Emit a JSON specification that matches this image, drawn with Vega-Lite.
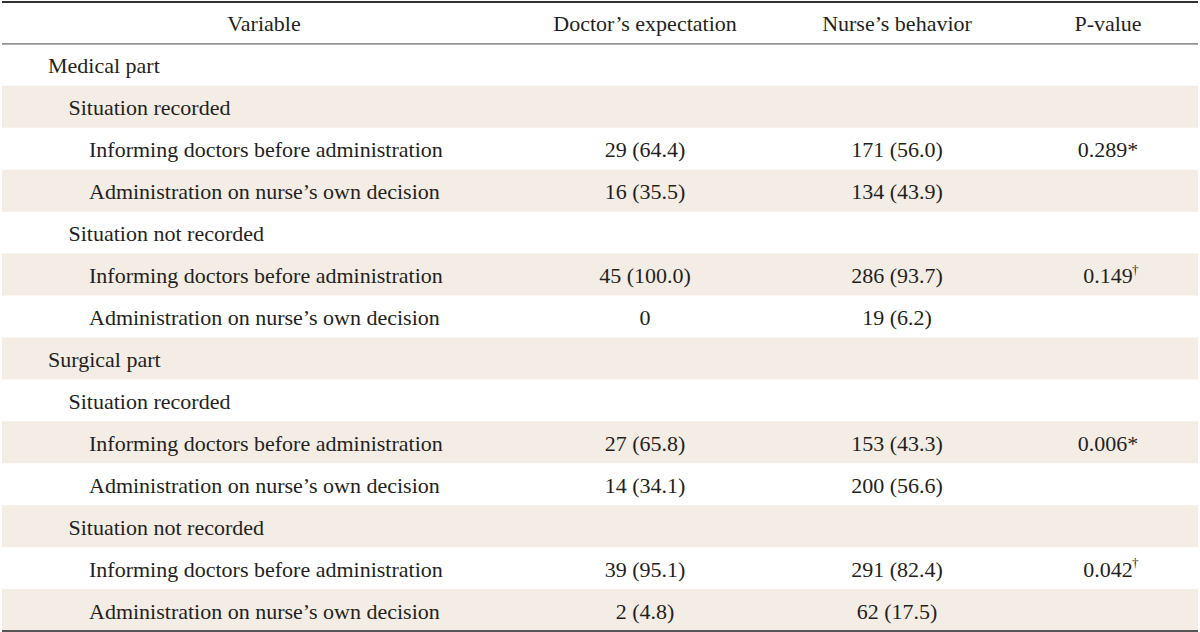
{
  "$schema": "https://vega.github.io/schema/vega-lite/v6.json",
  "width": 1200,
  "height": 632,
  "padding": 0,
  "autosize": {"type": "fit", "contains": "padding"},
  "background": "white",
  "config": {"view": {"stroke": null}},
  "datasets": {
    "labels": [
      {"row": 1, "level": 0, "label": "Medical part"},
      {"row": 2, "level": 1, "label": "Situation recorded"},
      {"row": 3, "level": 2, "label": "Informing doctors before administration"},
      {"row": 4, "level": 2, "label": "Administration on nurse’s own decision"},
      {"row": 5, "level": 1, "label": "Situation not recorded"},
      {"row": 6, "level": 2, "label": "Informing doctors before administration"},
      {"row": 7, "level": 2, "label": "Administration on nurse’s own decision"},
      {"row": 8, "level": 0, "label": "Surgical part"},
      {"row": 9, "level": 1, "label": "Situation recorded"},
      {"row": 10, "level": 2, "label": "Informing doctors before administration"},
      {"row": 11, "level": 2, "label": "Administration on nurse’s own decision"},
      {"row": 12, "level": 1, "label": "Situation not recorded"},
      {"row": 13, "level": 2, "label": "Informing doctors before administration"},
      {"row": 14, "level": 2, "label": "Administration on nurse’s own decision"}
    ],
    "cells": [
      {"row": 0, "col": 0, "text": "Variable"},
      {"row": 0, "col": 1, "text": "Doctor’s expectation"},
      {"row": 0, "col": 2, "text": "Nurse’s behavior"},
      {"row": 0, "col": 3, "text": "P-value"},
      {"row": 3, "col": 1, "text": "29 (64.4)"},
      {"row": 3, "col": 2, "text": "171 (56.0)"},
      {"row": 3, "col": 3, "text": "0.289*"},
      {"row": 4, "col": 1, "text": "16 (35.5)"},
      {"row": 4, "col": 2, "text": "134 (43.9)"},
      {"row": 6, "col": 1, "text": "45 (100.0)"},
      {"row": 6, "col": 2, "text": "286 (93.7)"},
      {"row": 6, "col": 3, "text": "0.149"},
      {"row": 7, "col": 1, "text": "0"},
      {"row": 7, "col": 2, "text": "19 (6.2)"},
      {"row": 10, "col": 1, "text": "27 (65.8)"},
      {"row": 10, "col": 2, "text": "153 (43.3)"},
      {"row": 10, "col": 3, "text": "0.006*"},
      {"row": 11, "col": 1, "text": "14 (34.1)"},
      {"row": 11, "col": 2, "text": "200 (56.6)"},
      {"row": 13, "col": 1, "text": "39 (95.1)"},
      {"row": 13, "col": 2, "text": "291 (82.4)"},
      {"row": 13, "col": 3, "text": "0.042"},
      {"row": 14, "col": 1, "text": "2 (4.8)"},
      {"row": 14, "col": 2, "text": "62 (17.5)"}
    ],
    "notes": [
      {"row": 6, "col": 3, "note": "†"},
      {"row": 13, "col": 3, "note": "†"}
    ],
    "edges": [
      {"edge": "top", "row": 0},
      {"edge": "header", "row": 1},
      {"edge": "bottom", "row": 14}
    ]
  },
  "layer": [
    {
      "data": {"name": "labels"},
      "transform": [{"filter": "datum.row >= 2 && datum.row % 2 == 0"}],
      "mark": {"type": "rect", "color": "#f4ede6"},
      "encoding": {
        "y": {"field": "row", "type": "ordinal", "axis": null,
              "scale": {"domain": [0,1,2,3,4,5,6,7,8,9,10,11,12,13,14], "range": [2, 631], "paddingInner": 0, "paddingOuter": 0}}
      }
    },
    {
      "data": {"name": "edges"},
      "transform": [{"filter": "datum.edge == 'top'"}],
      "mark": {"type": "rule", "color": "#333333", "strokeWidth": 2.2},
      "encoding": {"y": {"field": "row", "type": "ordinal", "bandPosition": 0}}
    },
    {
      "data": {"name": "edges"},
      "transform": [{"filter": "datum.edge == 'header'"}],
      "mark": {"type": "rule", "color": "#444444", "strokeWidth": 1},
      "encoding": {"y": {"field": "row", "type": "ordinal", "bandPosition": 0}}
    },
    {
      "data": {"name": "edges"},
      "transform": [{"filter": "datum.edge == 'bottom'"}],
      "mark": {"type": "rule", "color": "#555555", "strokeWidth": 2},
      "encoding": {"y": {"field": "row", "type": "ordinal", "bandPosition": 1}}
    },
    {
      "data": {"name": "labels"},
      "mark": {"type": "text", "align": "left", "baseline": "middle", "dy": 1.5, "font": "Liberation Serif", "fontSize": 22, "color": "#231f20"},
      "encoding": {
        "x": {"field": "level", "type": "quantitative", "axis": null, "scale": {"domain": [0, 2], "range": [46, 87], "zero": false, "nice": false}},
        "y": {"field": "row", "type": "ordinal"},
        "text": {"field": "label"}
      }
    },
    {
      "data": {"name": "cells"},
      "mark": {"type": "text", "align": "center", "baseline": "middle", "dy": 1.5, "font": "Liberation Serif", "fontSize": 22, "color": "#231f20"},
      "encoding": {
        "x": {"field": "col", "type": "quantitative", "axis": null, "scale": {"domain": [0, 1, 2, 3], "range": [262, 643, 895, 1106], "zero": false, "nice": false}},
        "y": {"field": "row", "type": "ordinal"},
        "text": {"field": "text"}
      }
    },
    {
      "data": {"name": "notes"},
      "mark": {"type": "text", "align": "left", "baseline": "middle", "dx": 24, "dy": -5, "font": "Liberation Serif", "fontSize": 13, "color": "#231f20"},
      "encoding": {
        "x": {"field": "col", "type": "quantitative", "axis": null, "scale": {"domain": [0, 1, 2, 3], "range": [262, 643, 895, 1106], "zero": false, "nice": false}},
        "y": {"field": "row", "type": "ordinal"},
        "text": {"field": "note"}
      }
    }
  ],
  "resolve": {"scale": {"x": "independent"}}
}
